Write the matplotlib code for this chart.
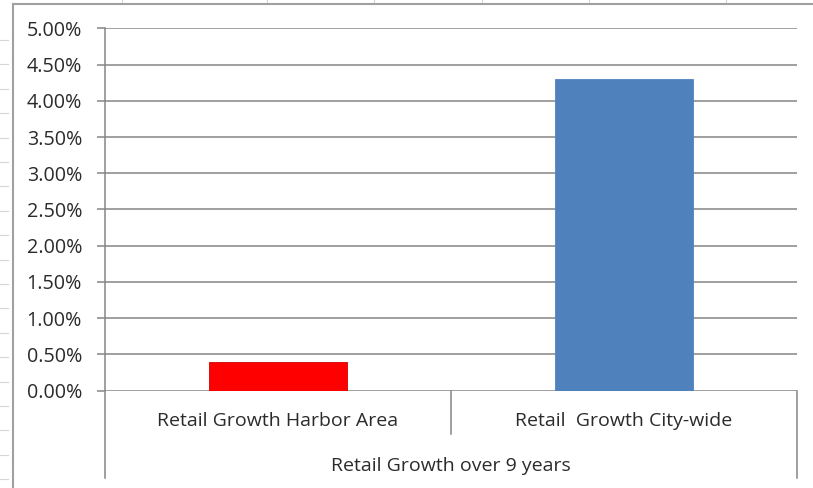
import matplotlib
matplotlib.use("Agg")
import matplotlib.pyplot as plt
import matplotlib.transforms as mtransforms
from matplotlib.ticker import FuncFormatter, MultipleLocator
import numpy as np

# ---- data ----
categories = ["Retail Growth Harbor Area", "Retail  Growth City-wide"]
values = [0.0039, 0.0430]
group_label = "Retail Growth over 9 years"
bar_colors = ["#FF0000", "#4F81BD"]
y_max = 0.05
y_step = 0.005

plt.rcParams['font.family'] = ['Open Sans', 'DejaVu Sans']
W, H = 813, 488
fig = plt.figure(figsize=(W / 100, H / 100), dpi=100)
fig.patch.set_facecolor("white")

# spreadsheet-like decorations behind the chart
def fx(px):
    return px / W
def fy(py):
    return 1 - py / H

for py in np.arange(40, 488, 24.4):
    fig.add_artist(plt.Line2D([fx(0), fx(8)], [fy(py), fy(py)], color="#D5D5D5", lw=0.8))
for px in [122, 267, 374, 482, 589, 726]:
    fig.add_artist(plt.Line2D([fx(px), fx(px)], [fy(0), fy(4)], color="#D5D5D5", lw=0.8))
# chart border
fig.add_artist(plt.Line2D([fx(13), fx(13)], [fy(4), fy(488)], color="#A0A0A0", lw=1.5))
fig.add_artist(plt.Line2D([fx(13), fx(813)], [fy(4), fy(4)], color="#A0A0A0", lw=1.5))

left, right, top, bottom = 105, 797, 28.3, 390.7
ax = fig.add_axes([left / W, 1 - bottom / H, (right - left) / W, (bottom - top) / H])

x = np.arange(len(categories))
ax.bar(x, values, width=0.4, color=bar_colors, zorder=3,
       edgecolor=["#D00000", "#4F81BD"], linewidth=0.6)

ax.set_xlim(-0.5, len(categories) - 0.5)
ax.set_ylim(0, y_max)
ax.yaxis.set_major_locator(MultipleLocator(y_step))
ax.yaxis.set_major_formatter(FuncFormatter(lambda v, p: f"{v*100:.2f}%"))
ax.grid(axis="y", color="#858585", linewidth=1.1, zorder=0)
ax.set_axisbelow(True)
for s in ["top", "right", "bottom", "left"]:
    ax.spines[s].set_visible(False)
ax.tick_params(axis="y", length=6, width=1.1, color="#858585", pad=10.5,
               labelsize=14.2, labelcolor="#2B2B2B")
ax.set_xticks([])

trans = mtransforms.blended_transform_factory(ax.transData, ax.transAxes)
axis_px = bottom - top
deep = -(478 - bottom) / axis_px
shallow = -(434 - bottom) / axis_px
line_kw = dict(color="#858585", lw=1.1, clip_on=False, transform=trans, zorder=4)
ax.plot([-0.5, -0.5], [deep, 1], **line_kw)
ax.plot([0.5, 0.5], [shallow, 0], **line_kw)
ax.plot([len(categories) - 0.5] * 2, [deep, 0], **line_kw)

lab_y = -(421 - bottom) / axis_px
for xi, cat in zip(x, categories):
    ax.text(xi, lab_y, cat, transform=trans, ha="center", va="center",
            fontsize=14, color="#2B2B2B")
ax.text(0.5, -(466 - bottom) / axis_px, group_label, transform=ax.transAxes,
        ha="center", va="center", fontsize=14, color="#2B2B2B")

fig.savefig("out.png", dpi=100)
